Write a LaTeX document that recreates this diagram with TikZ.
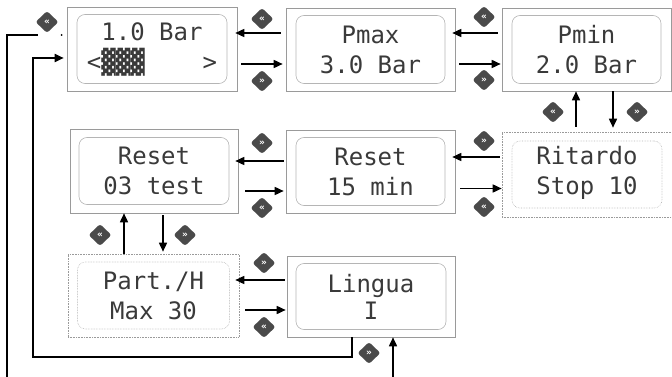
\documentclass[tikz,border=0pt]{standalone}
\usepackage{fontspec}
\newfontfamily\lcdfont{DejaVu Sans Mono}
\newfontfamily\badgefont{DejaVu Sans}
\usetikzlibrary{shapes.geometric,arrows.meta}
\definecolor{lcdtext}{HTML}{3A3A3A}
\definecolor{badgegray}{HTML}{4A4A4A}
\definecolor{frameout}{HTML}{9A9A9A}
\definecolor{framein}{HTML}{B5B5B5}
\tikzset{
  outerbox/.style={draw=frameout, line width=0.6pt, rectangle, inner sep=0pt},
  innerbox/.style={draw=framein, line width=0.6pt, rectangle, rounded corners=8pt, inner sep=0pt},
  dotframe/.style={densely dotted},
  lcd/.style={font=\lcdfont\fontsize{24}{30}\selectfont, text=lcdtext, align=center, inner sep=0pt},
  badge/.style={diamond, fill=badgegray, rounded corners=2.5pt, minimum width=23pt, minimum height=22pt,
    inner sep=0pt, text=white, font=\badgefont\bfseries\fontsize{9}{9}\selectfont},
  arr/.style={-{Triangle[length=9pt,width=8pt]}, line width=1.6pt},
  wire/.style={line width=1.8pt},
}
\begin{document}
\begin{tikzpicture}[x=1pt,y=-1pt]
\useasboundingbox (0,0) rectangle (672,377);
% outer frames
\node[outerbox, minimum width=170pt, minimum height=84pt] (A) at (152,49) {};
\node[outerbox, minimum width=169pt, minimum height=83pt] (B) at (370.5,49.5) {};
\node[outerbox, minimum width=169pt, minimum height=83pt] (C) at (586.5,49.5) {};
\node[outerbox, minimum width=168pt, minimum height=84pt] (D) at (154,171) {};
\node[outerbox, minimum width=169pt, minimum height=83pt] (E) at (370.5,171.5) {};
\node[outerbox, dotframe, minimum width=170pt, minimum height=85pt] (F) at (587,174.5) {};
\node[outerbox, dotframe, minimum width=171pt, minimum height=83pt] (G) at (153.5,295.5) {};
\node[outerbox, minimum width=168pt, minimum height=81pt] (H) at (371,296.5) {};
% inner frames
\node[innerbox, minimum width=150pt, minimum height=69pt] (Ai) at (A) {};
\node[innerbox, minimum width=149pt, minimum height=68pt] (Bi) at (B) {};
\node[innerbox, minimum width=149pt, minimum height=68pt] (Ci) at (C) {};
\node[innerbox, minimum width=150pt, minimum height=67pt] (Di) at (D) {};
\node[innerbox, minimum width=149pt, minimum height=68pt] (Ei) at (E) {};
\node[innerbox, dotframe, minimum width=150pt, minimum height=67pt] (Fi) at (F) {};
\node[innerbox, dotframe, minimum width=152pt, minimum height=67pt] (Gi) at (G) {};
\node[innerbox, minimum width=150pt, minimum height=66pt] (Hi) at (H) {};
% texts
\node[lcd] (At) at (A) {1.0 Bar\\<▓▓▓~~~~>};
\node[lcd] (Bt) at (B) {Pmax\\3.0 Bar};
\node[lcd] (Ct) at (C) {Pmin\\2.0 Bar};
\node[lcd] (Dt) at (D) {Reset\\03 test};
\node[lcd] (Et) at (E) {Reset\\15 min};
\node[lcd] (Ft) at ([yshift=2pt]F) {Ritardo\\Stop 10};
\node[lcd] (Gt) at (G) {Part./H\\Max 30};
\node[lcd, font=\lcdfont\fontsize{24}{27}\selectfont] (Ht) at (H) {Lingua\\I};
% horizontal arrows
\draw[arr, shorten <=5pt, shorten >=-2pt] ([yshift=16.5pt]B.west) -- ([yshift=16.5pt]B.west -| A.east);
\draw[arr, shorten <=4pt, shorten >=3pt] ([yshift=-15pt]A.east) -- ([yshift=-15pt]A.east -| B.west);
\draw[arr, shorten <=4pt, shorten >=-3pt] ([yshift=16.5pt]C.west) -- ([yshift=16.5pt]C.west -| B.east);
\draw[arr, shorten <=4pt, shorten >=1pt] ([yshift=-14.5pt]B.east) -- ([yshift=-14.5pt]B.east -| C.west);
\draw[arr, shorten <=2pt, shorten >=-3pt] ([yshift=10.5pt]E.west) -- ([yshift=10.5pt]E.west -| D.east);
\draw[arr, shorten <=7pt, shorten >=2pt] ([yshift=-19.5pt]E.west -| D.east) -- ([yshift=-19.5pt]E.west);
\draw[arr, shorten <=2pt, shorten >=-3pt] ([yshift=17.5pt]F.west) -- ([yshift=17.5pt]F.west -| E.east);
\draw[arr, shorten <=5pt, shorten >=0pt] ([yshift=-14pt]F.west -| E.east) -- ([yshift=-14pt]F.west);
\draw[arr, shorten <=2pt, shorten >=-4pt] ([yshift=16.5pt]H.west) -- ([yshift=16.5pt]H.west -| G.east);
\draw[arr, shorten <=6pt, shorten >=1pt] ([yshift=-13.5pt]H.west -| G.east) -- ([yshift=-13.5pt]H.west);
% vertical arrows
\draw[arr, shorten <=5pt, shorten >=0pt] ([xshift=-11pt]F.north) -- ([xshift=-11pt]F.north |- C.south);
\draw[arr, shorten <=0pt, shorten >=4pt] ([xshift=26.5pt]C.south) -- ([xshift=26.5pt]C.south |- F.north);
\draw[arr, shorten <=0pt, shorten >=0pt] ([xshift=-30pt]D.south |- G.north) -- ([xshift=-30pt]D.south);
\draw[arr, shorten <=2pt, shorten >=2pt] ([xshift=9pt]D.south) -- ([xshift=9pt]D.south |- G.north);
% wrap-around lines
\coordinate (bot1) at (7,377);
\coordinate (j1) at (33,357);
\coordinate (bot2) at (393,377);
\draw[wire, line cap=butt] ([yshift=14pt,xshift=-29pt]A.west) -| (bot1);
\fill ([yshift=14pt,xshift=-5pt]A.west) circle (1pt);
\draw[wire, -{Triangle[length=9pt,width=8pt]}, shorten >=3pt] ([xshift=-19pt]H.south) |- (j1) |- ([yshift=-9pt]A.west);
\draw[arr] (bot2) -- (bot2 |- H.south);
% badges
\node[badge] (b1) at (47,22) {«};
\node[badge] (b2) at (262,19) {«};
\node[badge] (b3) at (262,81) {»};
\node[badge] (b4) at (484,17) {«};
\node[badge] (b5) at (484,80) {»};
\node[badge] (b6) at (553,112) {«};
\node[badge] (b7) at (637,112) {»};
\node[badge] (b8) at (262,143) {»};
\node[badge] (b9) at (262,208) {«};
\node[badge] (b10) at (484,141) {»};
\node[badge] (b11) at (484,207) {«};
\node[badge] (b12) at (100,235) {«};
\node[badge] (b13) at (185,235) {»};
\node[badge] (b14) at (264,263) {»};
\node[badge] (b15) at (264,327) {«};
\node[badge] (b16) at (369,353) {»};
\end{tikzpicture}
\end{document}
